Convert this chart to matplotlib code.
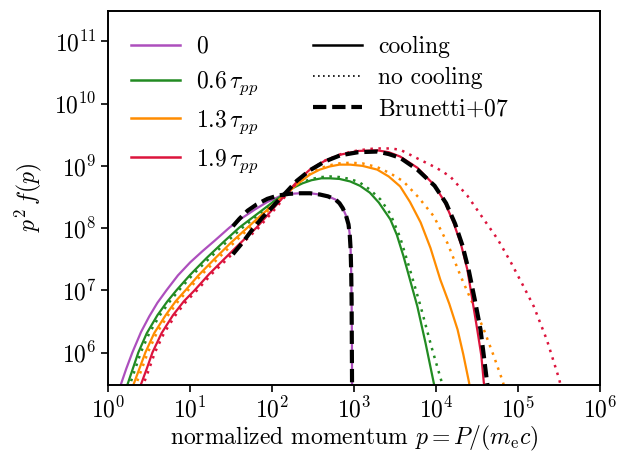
import numpy as np
import matplotlib
matplotlib.use('Agg')
import matplotlib.pyplot as plt
from matplotlib.lines import Line2D

plt.rcParams['font.family'] = 'serif'
plt.rcParams['font.serif'] = ['cmr10']
plt.rcParams['mathtext.fontset'] = 'cm'
plt.rcParams['axes.formatter.use_mathtext'] = True
plt.rcParams['font.size'] = 17

# log10(p), log10(p^2 f)
# t = 0
lp_0 = [0.10, 0.155, 0.22, 0.294, 0.40, 0.50, 0.60, 0.71, 0.85, 1.00, 1.15, 1.30, 1.48, 1.63, 1.79,
        1.94, 2.09, 2.22, 2.34, 2.46, 2.58, 2.68, 2.77, 2.82, 2.86, 2.90, 2.93, 2.945, 2.956, 2.963,
        2.968, 2.972, 2.974]
ly_0 = [5.30, 5.49, 5.74, 6.00, 6.33, 6.58, 6.80, 7.00, 7.24, 7.45, 7.63, 7.80, 8.01, 8.16, 8.30,
        8.42, 8.51, 8.55, 8.56, 8.56, 8.54, 8.51, 8.46, 8.40, 8.32, 8.20, 8.06, 7.90, 7.66, 7.30,
        6.85, 6.20, 5.30]

# t = 0.6 tau_pp
lp_1 = [0.18, 0.236, 0.30, 0.367, 0.47, 0.60, 0.72, 0.832, 1.00, 1.20, 1.40, 1.60, 1.76, 1.91, 2.05,
        2.15, 2.26, 2.37, 2.48, 2.60, 2.70, 2.82, 2.95, 3.07, 3.19, 3.30, 3.44, 3.52, 3.60, 3.68,
        3.77, 3.87, 3.97, 4.00]
ly_1 = [5.30, 5.49, 5.74, 6.00, 6.31, 6.60, 6.82, 7.00, 7.25, 7.52, 7.77, 8.01, 8.17, 8.32, 8.46,
        8.55, 8.65, 8.72, 8.77, 8.80, 8.80, 8.79, 8.75, 8.68, 8.57, 8.41, 8.14, 7.89, 7.55, 7.17,
        6.74, 6.15, 5.51, 5.30]
lp_1nc = [0.21, 0.266, 0.33, 0.397, 0.50, 0.63, 0.75, 0.862, 1.03, 1.23, 1.43, 1.63, 1.78, 1.93, 2.06,
          2.16, 2.26, 2.37, 2.48, 2.60, 2.70, 2.82, 2.95, 3.07, 3.19, 3.32, 3.44, 3.56, 3.68, 3.81,
          3.94, 4.07, 4.10]
ly_1nc = [5.30, 5.49, 5.74, 6.00, 6.31, 6.60, 6.82, 7.00, 7.25, 7.51, 7.76, 8.00, 8.16, 8.32, 8.46,
          8.55, 8.66, 8.74, 8.79, 8.82, 8.83, 8.82, 8.79, 8.73, 8.62, 8.46, 8.23, 7.85, 7.33, 6.74,
          6.10, 5.51, 5.35]

# t = 1.3 tau_pp
lp_2 = [0.26, 0.31, 0.38, 0.453, 0.56, 0.70, 0.82, 0.942, 1.10, 1.30, 1.50, 1.70, 1.85, 1.97, 2.15,
        2.30, 2.46, 2.58, 2.70, 2.82, 2.95, 3.10, 3.28, 3.42, 3.56, 3.68, 3.81, 3.93, 4.05, 4.16,
        4.26, 4.33, 4.40, 4.42]
ly_2 = [5.30, 5.49, 5.74, 6.00, 6.31, 6.60, 6.82, 7.00, 7.24, 7.51, 7.77, 8.01, 8.19, 8.33, 8.53,
        8.70, 8.86, 8.94, 8.99, 9.02, 9.02, 9.00, 8.94, 8.83, 8.67, 8.42, 8.09, 7.68, 7.17, 6.78,
        6.37, 5.97, 5.52, 5.35]
lp_2nc = [0.29, 0.34, 0.41, 0.483, 0.59, 0.73, 0.85, 0.972, 1.13, 1.33, 1.53, 1.72, 1.87, 1.98, 2.16,
          2.30, 2.46, 2.58, 2.70, 2.82, 2.95, 3.10, 3.28, 3.44, 3.60, 3.78, 3.97, 4.14, 4.30, 4.44,
          4.58, 4.70, 4.81, 4.84]
ly_2nc = [5.30, 5.49, 5.74, 6.00, 6.31, 6.60, 6.82, 7.00, 7.24, 7.50, 7.76, 8.00, 8.18, 8.32, 8.53,
          8.71, 8.87, 8.96, 9.01, 9.04, 9.05, 9.04, 8.98, 8.88, 8.75, 8.50, 8.19, 7.75, 7.22, 6.80,
          6.37, 5.95, 5.54, 5.40]

# t = 1.9 tau_pp
lp_3 = [0.35, 0.40, 0.47, 0.539, 0.65, 0.79, 0.92, 1.053, 1.23, 1.42, 1.62, 1.81, 1.93, 2.03, 2.13,
        2.215, 2.34, 2.46, 2.64, 2.83, 3.05, 3.28, 3.42, 3.56, 3.77, 3.97, 4.10, 4.21, 4.30, 4.38,
        4.44, 4.50, 4.55, 4.58, 4.60]
ly_3 = [5.30, 5.49, 5.74, 6.00, 6.31, 6.60, 6.82, 7.00, 7.26, 7.51, 7.77, 8.01, 8.19, 8.34, 8.49,
        8.62, 8.80, 8.94, 9.08, 9.18, 9.24, 9.25, 9.22, 9.15, 8.97, 8.70, 8.43, 8.09, 7.75, 7.33,
        6.85, 6.37, 5.95, 5.52, 5.35]
lp_3nc = [0.38, 0.43, 0.50, 0.569, 0.68, 0.82, 0.95, 1.083, 1.26, 1.45, 1.64, 1.83, 1.95, 2.05, 2.14,
          2.23, 2.35, 2.47, 2.65, 2.84, 3.05, 3.25, 3.44, 3.56, 3.80, 4.00, 4.17, 4.38, 4.58, 4.75,
          4.91, 5.05, 5.19, 5.35, 5.50, 5.52]
ly_3nc = [5.30, 5.49, 5.74, 6.00, 6.31, 6.60, 6.82, 7.00, 7.26, 7.50, 7.76, 8.00, 8.18, 8.33, 8.48,
          8.62, 8.80, 8.94, 9.09, 9.19, 9.25, 9.28, 9.28, 9.26, 9.10, 8.97, 8.83, 8.52, 8.14, 7.82,
          7.45, 7.10, 6.74, 6.20, 5.57, 5.45]

# Brunetti+07
lp_b0 = [1.52, 1.60, 1.70, 1.81, 1.94, 2.06, 2.20, 2.34, 2.46, 2.58, 2.68, 2.77, 2.82, 2.86, 2.90,
         2.93, 2.945, 2.956, 2.963, 2.968, 2.974]
ly_b0 = [8.03, 8.15, 8.28, 8.38, 8.47, 8.52, 8.55, 8.56, 8.56, 8.54, 8.51, 8.46, 8.40, 8.32, 8.20,
         8.06, 7.90, 7.66, 7.30, 6.85, 5.30]
lp_b1 = [1.52, 1.64, 1.76, 1.88, 2.01, 2.10, 2.18, 2.30, 2.46, 2.64, 2.83, 3.05, 3.28, 3.42, 3.56,
         3.77, 3.98, 4.12, 4.23, 4.32, 4.40, 4.47, 4.54, 4.58, 4.62, 4.64]
ly_b1 = [7.58, 7.77, 7.98, 8.17, 8.35, 8.48, 8.59, 8.76, 8.93, 9.07, 9.17, 9.22, 9.23, 9.19, 9.13,
         8.94, 8.68, 8.40, 8.07, 7.72, 7.30, 6.85, 6.37, 5.95, 5.52, 5.35]

labels = ['0', r'$0.6\,\tau_{pp}$', r'$1.3\,\tau_{pp}$', r'$1.9\,\tau_{pp}$']
colors = ['#ad4fbd', 'forestgreen', 'darkorange', 'crimson']

cool = [(lp_0, ly_0), (lp_1, ly_1), (lp_2, ly_2), (lp_3, ly_3)]
nocool = [None, (lp_1nc, ly_1nc), (lp_2nc, ly_2nc), (lp_3nc, ly_3nc)]

fig = plt.figure(figsize=(6.22, 4.53), dpi=100)
ax = fig.add_axes([0.174, 0.150, 0.791, 0.826])

for i in range(4):
    lp, ly = cool[i]
    ax.plot(10**np.array(lp), 10**np.array(ly), color=colors[i], lw=1.6)
    if nocool[i] is not None:
        lp, ly = nocool[i]
        ax.plot(10**np.array(lp), 10**np.array(ly), color=colors[i], lw=1.8,
                linestyle=(0, (1, 2.2)))

for lp, ly in [(lp_b0, ly_b0), (lp_b1, ly_b1)]:
    ax.plot(10**np.array(lp), 10**np.array(ly), color='black', lw=3,
            linestyle=(0, (3.2, 1.4)), zorder=3)

ax.set_xscale('log')
ax.set_yscale('log')
ax.set_xlim(1, 1e6)
ax.set_ylim(3e5, 3.1e11)
ax.minorticks_off()
ax.set_xticks([10**k for k in range(7)])
ax.set_yticks([10**k for k in range(6, 12)])
ax.tick_params(which='major', direction='out', length=5, width=1.2, labelsize=17)
for s in ax.spines.values():
    s.set_linewidth(1.4)

ax.set_xlabel(r'normalized momentum $p = P/(m_{\rm e}c)$', labelpad=1)
ax.set_ylabel(r'$p^2\,f(p)$', labelpad=7)

h1 = [Line2D([], [], color=c, lw=1.8) for c in colors]
leg1 = ax.legend(h1, labels, loc='upper left', bbox_to_anchor=(0.004, 0.99),
                 frameon=False, handlelength=2.05, handletextpad=0.7,
                 labelspacing=0.48, fontsize=17)
ax.add_artist(leg1)
h2 = [Line2D([], [], color='black', lw=1.8),
      Line2D([], [], color='black', lw=1.2, linestyle=(0, (1, 2))),
      Line2D([], [], color='black', lw=3, linestyle=(0, (3.2, 1.4)))]
ax.legend(h2, ['cooling', 'no cooling', r'Brunetti$+$07'], loc='upper left',
          bbox_to_anchor=(0.374, 0.99), frameon=False, handlelength=2.05,
          handletextpad=0.7, labelspacing=0.38, fontsize=17)

fig.savefig('out.png', dpi=100)
